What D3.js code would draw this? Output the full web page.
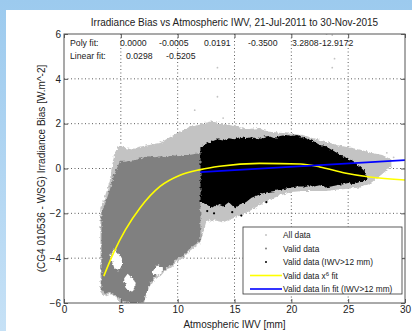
<!DOCTYPE html>
<html>
<head>
<meta charset="utf-8">
<script src="https://cdn.jsdelivr.net/npm/d3@7"></script>
<style>
  html, body { margin: 0; padding: 0; background: #fff; }
  svg { display: block; }
  text { font-family: "Liberation Sans", Arial, sans-serif; fill: #222; }
</style>
</head>
<body>
<svg id="chart" width="412" height="331"></svg>
<script>
// ---- data -------------------------------------------------------------
const titleText = "Irradiance Bias vs Atmospheric IWV, 21-Jul-2011 to 30-Nov-2015";
const xLabel = "Atmospheric IWV [mm]";
const yLabel = "(CG4 010536 - WSG) Irradiance Bias [W.m^-2]";
const xTicks = [0, 5, 10, 15, 20, 25, 30];
const yTicks = [-6, -4, -2, 0, 2, 4, 6];
const polyCoefs = ["0.0000", "-0.0005", "0.0191", "-0.3500", "3.2808", "-12.9172"];
const linCoefs = [0.0298, -0.5205];
const linCutoff = 12;

// envelope of the whole data cloud: [IWV, upper bias, lower bias]
const allDataEnv = [
  [3.2, -1.8, -5.5], [3.5, -1.4, -5.7], [4.0, -0.6, -5.6], [4.4, 0.6, -5.7],
  [4.7, 0.95, -5.8], [5.0, 1.0, -6.0], [5.5, 0.9, -6.0], [6.0, 0.85, -6.0],
  [6.5, 0.95, -6.0], [7.0, 1.0, -6.0], [7.5, 1.05, -5.3], [8.0, 1.1, -4.9],
  [8.5, 1.15, -4.8], [9.0, 1.3, -4.5], [9.5, 1.45, -4.4], [10.0, 1.6, -4.1],
  [10.5, 1.7, -4.0], [11.0, 1.85, -3.7], [11.5, 1.9, -3.5], [12.0, 2.0, -3.3],
  [12.5, 2.05, -2.4], [13.0, 2.1, -2.3], [14.0, 2.0, -2.4], [15.0, 1.9, -2.2],
  [16.0, 1.75, -2.0], [17.0, 1.8, -1.7], [18.0, 1.65, -1.4], [19.0, 1.6, -1.2],
  [20.0, 1.55, -1.05], [21.0, 1.5, -1.0], [22.0, 1.35, -1.0], [23.0, 1.2, -1.0],
  [24.0, 1.05, -0.95], [25.0, 0.95, -0.9], [26.0, 0.85, -0.85], [27.0, 0.7, -0.65],
  [28.0, 0.6, -0.25], [28.8, 0.4, 0.1]
];
// envelope of valid data below the cutoff
const validLowEnv = [
  [3.3, -1.9, -5.4], [3.6, -1.6, -5.6], [4.0, -1.0, -5.5], [4.4, -0.3, -5.6],
  [4.9, 0.3, -5.8], [5.3, 0.3, -5.9], [5.8, 0.35, -6.0], [6.5, 0.4, -6.0],
  [7.0, 0.5, -5.9], [7.5, 0.55, -5.2], [8.0, 0.5, -4.8], [8.5, 0.55, -4.7],
  [9.0, 0.5, -4.4], [9.5, 0.6, -4.3], [10.0, 0.55, -4.0], [10.5, 0.6, -3.9],
  [11.0, 0.6, -3.6], [11.5, 0.65, -3.4], [12.0, 0.7, -3.2]
];
// empty patches inside the valid data below the cutoff
const lowGapEnvs = [
  [[4.1, -3.8, -3.9], [4.4, -3.6, -4.4], [4.8, -3.8, -4.6], [5.1, -4.1, -4.3]],
  [[5.3, -4.9, -5.0], [5.6, -4.7, -5.4], [6.0, -4.9, -5.5], [6.3, -5.1, -5.2]],
  [[7.8, -4.6, -4.7], [8.2, -4.3, -4.8], [8.7, -4.4, -4.6]]
];
// envelope of valid data above the cutoff
const validHighEnv = [
  [12.0, 0.95, -1.5], [12.5, 1.1, -1.6], [13.0, 1.2, -1.75], [13.5, 1.3, -1.6],
  [14.0, 1.25, -1.7], [14.5, 1.35, -1.5], [15.0, 1.3, -1.75], [15.5, 1.4, -1.6],
  [16.0, 1.35, -1.5], [16.5, 1.4, -1.3], [17.0, 1.3, -1.2], [17.5, 1.4, -1.1],
  [18.0, 1.45, -1.05], [18.5, 1.35, -1.0], [19.0, 1.45, -0.95], [19.5, 1.5, -0.9],
  [20.0, 1.45, -0.85], [20.5, 1.5, -0.8], [21.0, 1.4, -0.8], [21.5, 1.3, -0.75],
  [22.0, 1.2, -0.8], [22.5, 1.05, -0.75], [23.0, 1.0, -0.85], [23.5, 0.85, -0.8],
  [24.0, 0.7, -0.75], [24.5, 0.55, -0.7], [25.0, 0.45, -0.65], [25.5, 0.3, -0.7],
  [26.0, 0.1, -0.6], [26.6, -0.2, -0.55]
];
// isolated points of the whole data set
const outlierIWV  = [13.5, 13.5, 11.5, 14.0, 23.1, 23.6, 23.8, 23.6, 28.4, 29.0];
const outlierBias = [4.5, 3.2, 2.6, 2.25, 6.0, 5.95, 4.9, 4.5, 0.7, 0.5];
// isolated points of the valid data above the cutoff
const highOutIWV  = [13.2, 15.6, 17.8, 12.6, 14.8];
const highOutBias = [-2.0, -2.1, -1.5, -1.9, -1.95];
// polynomial fit curve
const polyIWV  = [3.5, 4.4, 5.4, 6.7, 8.45, 10.2, 12.0, 13.7, 17.2, 20.8, 22.5, 24.7, 26.9, 30.0];
const polyBias = [-4.8, -3.72, -2.74, -1.75, -0.8, -0.3, -0.05, 0.1, 0.23, 0.2, 0.07, -0.2, -0.38, -0.51];

const legendItems = [
  { label: "All data", kind: "dot", color: "#c3c3c3" },
  { label: "Valid data", kind: "dot", color: "#808080" },
  { label: "Valid data (IWV>12 mm)", kind: "dot", color: "#000000" },
  { label: "Valid data x", sup: "6", tail: " fit", kind: "line", color: "#ffff00" },
  { label: "Valid data lin fit (IWV>12 mm)", kind: "line", color: "#0000ff" }
];

// ---- layout -----------------------------------------------------------
const svg = d3.select("#chart");
const W = 412, H = 331;
const plot = { left: 64, right: 405, top: 34, bottom: 303 };

const defs = svg.append("defs");
const grad = defs.append("linearGradient").attr("id", "bg").attr("x1", 0).attr("y1", 0).attr("x2", 0).attr("y2", 1);
grad.append("stop").attr("offset", "0%").attr("stop-color", "#9ccaee");
grad.append("stop").attr("offset", "100%").attr("stop-color", "#c6e1f6");
svg.append("rect").attr("width", W).attr("height", H).attr("fill", "url(#bg)");
svg.append("rect").attr("x", 6).attr("y", 10).attr("width", W - 6).attr("height", H - 10).attr("fill", "#fff");

const x = d3.scaleLinear().domain([0, 30]).range([plot.left, plot.right]);
const y = d3.scaleLinear().domain([-6, 6]).range([plot.bottom, plot.top]);

defs.append("clipPath").attr("id", "clip").append("rect")
  .attr("x", plot.left).attr("y", plot.top)
  .attr("width", plot.right - plot.left).attr("height", plot.bottom - plot.top);

// grid
const grid = svg.append("g").attr("stroke", "#333").attr("stroke-width", 0.8).attr("stroke-dasharray", "1,2.5");
xTicks.slice(1, -1).forEach(t => grid.append("line").attr("x1", x(t)).attr("x2", x(t)).attr("y1", plot.top).attr("y2", plot.bottom));
yTicks.slice(1, -1).forEach(t => grid.append("line").attr("x1", plot.left).attr("x2", plot.right).attr("y1", y(t)).attr("y2", y(t)));

// data clouds (rough edges come from a small turbulence displacement)
const rough = defs.append("filter").attr("id", "rough").attr("x", "-5%").attr("y", "-5%").attr("width", "110%").attr("height", "110%");
rough.append("feTurbulence").attr("type", "fractalNoise").attr("baseFrequency", 0.35).attr("numOctaves", 2).attr("seed", 3).attr("result", "n");
rough.append("feDisplacementMap").attr("in", "SourceGraphic").attr("in2", "n").attr("scale", 4)
  .attr("xChannelSelector", "R").attr("yChannelSelector", "G");

const cloud = svg.append("g").attr("clip-path", "url(#clip)");
const area = d3.area().x(d => x(d[0])).y0(d => y(d[2])).y1(d => y(d[1])).curve(d3.curveLinear);
const clouds = cloud.append("g").attr("filter", "url(#rough)");
clouds.append("path").datum(allDataEnv).attr("d", area).attr("fill", "#c3c3c3");
clouds.append("path").datum(validLowEnv).attr("d", area).attr("fill", "#808080");
lowGapEnvs.forEach(g => clouds.append("path").datum(g).attr("d", area).attr("fill", "#fff"));
clouds.append("path").datum(validHighEnv).attr("d", area).attr("fill", "#000");
cloud.selectAll("circle.out").data(outlierIWV).join("circle").attr("class", "out")
  .attr("cx", d => x(d)).attr("cy", (d, i) => y(outlierBias[i])).attr("r", 0.9).attr("fill", "#c3c3c3");
cloud.selectAll("circle.hout").data(highOutIWV).join("circle").attr("class", "hout")
  .attr("cx", d => x(d)).attr("cy", (d, i) => y(highOutBias[i])).attr("r", 1.1).attr("fill", "#000");

// fits
const fitLine = d3.line().x(d => x(d[0])).y(d => y(d[1])).curve(d3.curveMonotoneX);
cloud.append("path").datum(polyIWV.map((v, i) => [v, polyBias[i]])).attr("d", fitLine)
  .attr("fill", "none").attr("stroke", "#ffff00").attr("stroke-width", 1.6);
const linX = [linCutoff, 30];
cloud.append("path").datum(linX.map(v => [v, linCoefs[0] * v + linCoefs[1]])).attr("d", fitLine)
  .attr("fill", "none").attr("stroke", "#0000ff").attr("stroke-width", 1.6);

// axes box and ticks
svg.append("rect").attr("x", plot.left).attr("y", plot.top)
  .attr("width", plot.right - plot.left).attr("height", plot.bottom - plot.top)
  .attr("fill", "none").attr("stroke", "#555").attr("stroke-width", 1);
const axB = d3.axisBottom(x).tickValues(xTicks).tickSize(-4).tickPadding(3);
const axL = d3.axisLeft(y).tickValues(yTicks).tickSize(-4).tickPadding(3);
const gB = svg.append("g").attr("transform", `translate(0,${plot.bottom})`).call(axB);
const gL = svg.append("g").attr("transform", `translate(${plot.left},0)`).call(axL);
[gB, gL].forEach(g => {
  g.select(".domain").remove();
  g.selectAll("line").attr("stroke", "#555");
  g.selectAll("text").attr("font-size", 10).attr("font-family", "Liberation Sans, Arial, sans-serif").attr("fill", "#222");
});
const gT = svg.append("g").attr("transform", `translate(0,${plot.top})`).call(d3.axisTop(x).tickValues(xTicks).tickSize(-4).tickFormat(""));
const gR = svg.append("g").attr("transform", `translate(${plot.right},0)`).call(d3.axisRight(y).tickValues(yTicks).tickSize(-4).tickFormat(""));
[gT, gR].forEach(g => { g.select(".domain").remove(); g.selectAll("line").attr("stroke", "#555"); });

// title and axis labels
svg.append("text").attr("x", (plot.left + plot.right) / 2).attr("y", 26).attr("text-anchor", "middle")
  .attr("font-size", 10).text(titleText);
svg.append("text").attr("x", (plot.left + plot.right) / 2).attr("y", 328).attr("text-anchor", "middle")
  .attr("font-size", 10).text(xLabel);
svg.append("text").attr("transform", `translate(45,${(plot.top + plot.bottom) / 2}) rotate(-90)`)
  .attr("text-anchor", "middle").attr("font-size", 10).text(yLabel);

// fit coefficients
const ann = svg.append("g").attr("font-size", 8.7);
ann.append("text").attr("x", 70).attr("y", 46).text("Poly fit:");
const polyX = [120, 159, 204, 248, 292, 319];
polyCoefs.forEach((c, i) => ann.append("text").attr("x", polyX[i]).attr("y", 46).text(c));
ann.append("text").attr("x", 70).attr("y", 59).text("Linear fit:");
const linX2 = [126, 166];
linCoefs.forEach((c, i) => ann.append("text").attr("x", linX2[i]).attr("y", 59).text(c.toFixed(4)));

// legend
const lg = svg.append("g");
lg.append("rect").attr("x", 243).attr("y", 227).attr("width", 159).attr("height", 67)
  .attr("fill", "#fff").attr("stroke", "#333").attr("stroke-width", 0.8);
legendItems.forEach((it, i) => {
  const cy = 235 + i * 13.5;
  if (it.kind === "dot") {
    lg.append("circle").attr("cx", 266).attr("cy", cy).attr("r", 1).attr("fill", it.color);
  } else {
    lg.append("line").attr("x1", 250).attr("x2", 282).attr("y1", cy).attr("y2", cy)
      .attr("stroke", it.color).attr("stroke-width", 1.6);
  }
  const t = lg.append("text").attr("x", 283).attr("y", cy + 3).attr("font-size", 8.3);
  t.append("tspan").text(it.label);
  if (it.sup) {
    t.append("tspan").attr("dy", -3).attr("font-size", 6).text(it.sup);
    t.append("tspan").attr("dy", 3).text(it.tail);
  }
});
</script>
</body>
</html>
